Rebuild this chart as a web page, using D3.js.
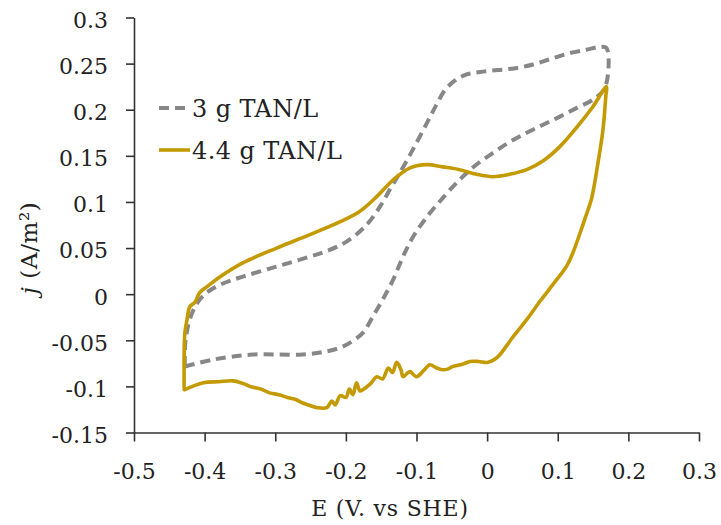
<!DOCTYPE html>
<html>
<head>
<meta charset="utf-8">
<script src="https://cdn.jsdelivr.net/npm/d3@7"></script>
<style>
  html, body { margin: 0; padding: 0; background: #fff; }
  svg { display: block; }
  text { font-family: "DejaVu Serif", "Liberation Serif", serif; fill: #222; }
</style>
</head>
<body>
<svg id="chart" width="721" height="525"></svg>
<script>
// Axis ticks
const xTicks = [-0.5, -0.4, -0.3, -0.2, -0.1, 0, 0.1, 0.2, 0.3];
const xTickLabels = ["-0.5", "-0.4", "-0.3", "-0.2", "-0.1", "0", "0.1", "0.2", "0.3"];
const yTicks = [-0.15, -0.1, -0.05, 0, 0.05, 0.1, 0.15, 0.2, 0.25, 0.3];
const yTickLabels = ["-0.15", "-0.1", "-0.05", "0", "0.05", "0.1", "0.15", "0.2", "0.25", "0.3"];

// Series names
const seriesNames = ["3 g TAN/L", "4.4 g TAN/L"];

// Cyclic voltammogram, 3 g TAN/L: potential E (V vs SHE) and current density j (A/m²)
const e3 = [-0.428, -0.388, -0.332, -0.261, -0.227, -0.208, -0.194, -0.176, -0.162, -0.148,
  -0.133, -0.119, -0.105, -0.085, -0.062, -0.039, -0.016, 0.008, 0.032, 0.056,
  0.080, 0.103, 0.127, 0.150, 0.167, 0.169, 0.160, 0.140, 0.115, 0.090,
  0.065, 0.040, 0.015, -0.010, -0.030, -0.045, -0.060, -0.072, -0.085, -0.105,
  -0.124, -0.136, -0.150, -0.172, -0.199, -0.223, -0.251, -0.298, -0.346, -0.378,
  -0.397, -0.409, -0.420, -0.427, -0.428];
const j3 = [-0.0785, -0.071, -0.0655, -0.0655, -0.062, -0.058, -0.0526, -0.042, -0.0245, -0.006,
  0.0157, 0.041, 0.062, 0.084, 0.105, 0.124, 0.140, 0.153, 0.165, 0.175,
  0.184, 0.1925, 0.202, 0.211, 0.224, 0.267, 0.268, 0.265, 0.261, 0.255,
  0.249, 0.245, 0.243, 0.241, 0.238, 0.232, 0.221, 0.205, 0.186, 0.157,
  0.131, 0.116, 0.097, 0.074, 0.057, 0.048, 0.0407, 0.030, 0.019, 0.0103,
  0.0016, -0.008, -0.025, -0.050, -0.0785];

// Cyclic voltammogram, 4.4 g TAN/L
const e44 = [-0.428, -0.402, -0.380, -0.360, -0.345, -0.336, -0.320, -0.308, -0.295, -0.283,
  -0.272, -0.261, -0.250, -0.241, -0.227, -0.220, -0.215, -0.208, -0.200, -0.195,
  -0.190, -0.185, -0.180, -0.176, -0.165, -0.156, -0.148, -0.140, -0.134, -0.128,
  -0.122, -0.119, -0.112, -0.109, -0.100, -0.090, -0.081, -0.072, -0.063, -0.055,
  -0.049, -0.035, -0.024, -0.012, 0.000, 0.010, 0.018, 0.036, 0.056, 0.0746,
  0.093, 0.113, 0.122, 0.131, 0.139, 0.148, 0.157, 0.164, 0.168, 0.169,
  0.150, 0.127, 0.103, 0.080, 0.056, 0.032, 0.008, -0.015, -0.039, -0.063,
  -0.085, -0.109, -0.133, -0.156, -0.180, -0.208, -0.251, -0.298, -0.346, -0.378,
  -0.397, -0.407, -0.414, -0.421, -0.425, -0.428, -0.429, -0.429];
const j44 = [-0.1036, -0.096, -0.095, -0.094, -0.097, -0.100, -0.103, -0.107, -0.109, -0.112,
  -0.114, -0.118, -0.121, -0.123, -0.123, -0.116, -0.120, -0.110, -0.112, -0.103,
  -0.109, -0.096, -0.105, -0.1036, -0.097, -0.0895, -0.092, -0.080, -0.085, -0.074,
  -0.082, -0.0895, -0.085, -0.084, -0.0895, -0.083, -0.0765, -0.080, -0.082, -0.081,
  -0.0786, -0.076, -0.073, -0.073, -0.074, -0.071, -0.0656, -0.047, -0.0277, -0.008,
  0.0103, 0.031, 0.046, 0.065, 0.083, 0.104, 0.1426, 0.178, 0.214, 0.225,
  0.2035, 0.181, 0.160, 0.145, 0.135, 0.130, 0.1274, 0.130, 0.135, 0.138,
  0.1405, 0.137, 0.124, 0.106, 0.090, 0.0786, 0.0645, 0.050, 0.034, 0.019,
  0.008, 0.0016, -0.009, -0.0136, -0.028, -0.042, -0.071, -0.1036];

const svg = d3.select("#chart");
const margin = { left: 134, right: 22, top: 17.5, bottom: 92.5 };
const W = 721, H = 525;

const x = d3.scaleLinear().domain([-0.5, 0.3]).range([margin.left, W - margin.right]);
const y = d3.scaleLinear().domain([-0.15, 0.3]).range([H - margin.bottom, margin.top]);

// Axes
const xAxis = d3.axisBottom(x).tickValues(xTicks)
  .tickFormat((d, i) => xTickLabels[i]).tickSizeInner(9).tickSizeOuter(0).tickPadding(22);
const yAxis = d3.axisLeft(y).tickValues(yTicks)
  .tickFormat((d, i) => yTickLabels[i]).tickSizeInner(8).tickSizeOuter(0).tickPadding(18);

const gx = svg.append("g").attr("transform", `translate(0,${y(-0.15)})`).call(xAxis);
const gy = svg.append("g").attr("transform", `translate(${x(-0.5)},0)`).call(yAxis);

[gx, gy].forEach(g => {
  g.select(".domain").attr("stroke", "#333").attr("stroke-width", 1.6);
  g.selectAll(".tick line").attr("stroke", "#333").attr("stroke-width", 1.6);
  g.selectAll(".tick text").attr("font-family", "DejaVu Serif").attr("font-size", 22).attr("fill", "#222");
});
gy.selectAll(".tick text").attr("dy", "0.45em");

// Curves
const line = d3.line()
  .x(d => x(d[0])).y(d => y(d[1]))
  .curve(d3.curveCatmullRom.alpha(0.5));

const pts3 = e3.map((e, i) => [e, j3[i]]);
const pts44 = e44.map((e, i) => [e, j44[i]]);

const grayColor = "#878787";
const goldColor = "#C49A02";

svg.append("path").datum(pts3)
  .attr("d", line)
  .attr("fill", "none")
  .attr("stroke", grayColor)
  .attr("stroke-width", 4)
  .attr("stroke-dasharray", "10,6")
  .attr("stroke-linejoin", "round");

svg.append("path").datum(pts44)
  .attr("d", line)
  .attr("fill", "none")
  .attr("stroke", goldColor)
  .attr("stroke-width", 3.6)
  .attr("stroke-linejoin", "round")
  .attr("stroke-linecap", "round");

// Legend
const legend = svg.append("g");
const legendItems = [
  { name: seriesNames[0], color: grayColor, dash: "10,6", w: 4, y: 108 },
  { name: seriesNames[1], color: goldColor, dash: null, w: 3.6, y: 150 }
];
legendItems.forEach(it => {
  legend.append("line")
    .attr("x1", 159).attr("x2", 190)
    .attr("y1", it.y).attr("y2", it.y)
    .attr("stroke", it.color).attr("stroke-width", it.w)
    .attr("stroke-dasharray", it.dash);
  legend.append("text")
    .attr("x", 192).attr("y", it.y + 9)
    .attr("font-size", 24)
    .attr("letter-spacing", 0.4)
    .text(it.name);
});

// Axis titles
svg.append("text")
  .attr("x", 390).attr("y", 516)
  .attr("text-anchor", "middle")
  .attr("font-size", 22)
  .attr("letter-spacing", 0.8)
  .text("E (V. vs SHE)");

const yTitle = svg.append("text")
  .attr("transform", "translate(37,248) rotate(-90)")
  .attr("text-anchor", "middle")
  .attr("font-size", 23)
  .attr("letter-spacing", 0.6);
yTitle.append("tspan").attr("font-style", "italic").text("j");
yTitle.append("tspan").text(" (A/m²)");
</script>
</body>
</html>
